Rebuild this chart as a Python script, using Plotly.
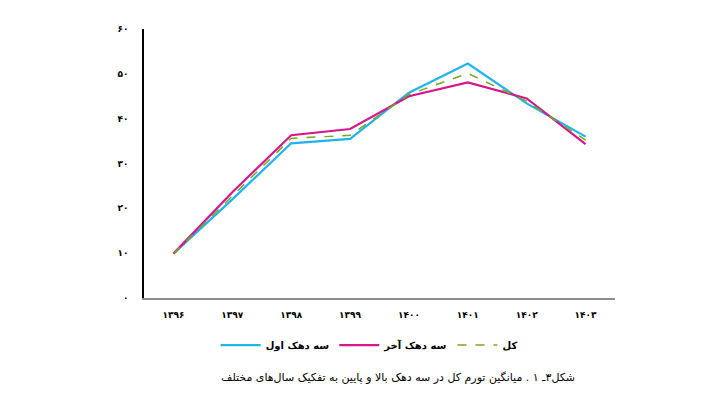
import plotly.graph_objects as go

# سال‌ها و مقادیر تورم (خوانده شده از نمودار)
years = ['۱۳۹۶', '۱۳۹۷', '۱۳۹۸', '۱۳۹۹', '۱۴۰۰', '۱۴۰۱', '۱۴۰۲', '۱۴۰۳']
first_three = [9.9, 22.0, 34.5, 35.5, 45.8, 52.3, 43.4, 36.0]
last_three = [9.9, 23.6, 36.3, 37.7, 45.0, 48.1, 44.5, 34.3]
total = [9.9, 22.8, 35.6, 36.3, 45.4, 50.1, 43.9, 35.2]

y_ticks = [0, 10, 20, 30, 40, 50, 60]
y_labels = ['۰', '۱۰', '۲۰', '۳۰', '۴۰', '۵۰', '۶۰']

caption = 'شکل۳ـ ۱ . میانگین تورم کل در سه دهک بالا و پایین به تفکیک سال‌های مختلف'

fig = go.Figure()

fig.add_trace(go.Scatter(x=years, y=first_three, mode='lines', name='سه دهک اول',
                         line=dict(color='#1FB4EC', width=2.2)))
fig.add_trace(go.Scatter(x=years, y=last_three, mode='lines', name='سه دهک آخر',
                         line=dict(color='#D6168C', width=2.2)))
fig.add_trace(go.Scatter(x=years, y=total, mode='lines', name='کل',
                         line=dict(color='#77A81E', width=1.5, dash='dash')))

fig.add_annotation(text=caption, xref='paper', yref='paper', x=0.539, y=-0.294,
                   showarrow=False, xanchor='center', yanchor='middle',
                   font=dict(family='DejaVu Sans', size=11, color='black'))

# حاشیه ۸ پیکسلی body صفحه در نظر گرفته شده است
fig.update_layout(
    width=719,
    height=402,
    margin=dict(l=136, r=112, t=21, b=112),
    paper_bgcolor='white',
    plot_bgcolor='white',
    font=dict(family='DejaVu Sans', color='black'),
    showlegend=True,
    legend=dict(orientation='h', x=0.478, y=-0.175, xanchor='center', yanchor='middle',
                font=dict(size=10, family='DejaVu Sans', weight='bold'),
                itemwidth=40, tracegroupgap=0),
    xaxis=dict(
        type='category',
        range=[-0.5, 7.5],
        showgrid=False,
        zeroline=False,
        showline=True,
        linecolor='#8c8c8c',
        linewidth=2,
        ticks='',
        ticklabelstandoff=7,
        tickfont=dict(size=9, weight='bold'),
    ),
    yaxis=dict(
        range=[0, 60],
        tickvals=y_ticks,
        ticktext=y_labels,
        showgrid=False,
        zeroline=False,
        showline=True,
        linecolor='black',
        linewidth=1.5,
        ticks='',
        ticklabelstandoff=12,
        tickfont=dict(size=9, weight='bold'),
    ),
)

fig.write_html("out.html")
